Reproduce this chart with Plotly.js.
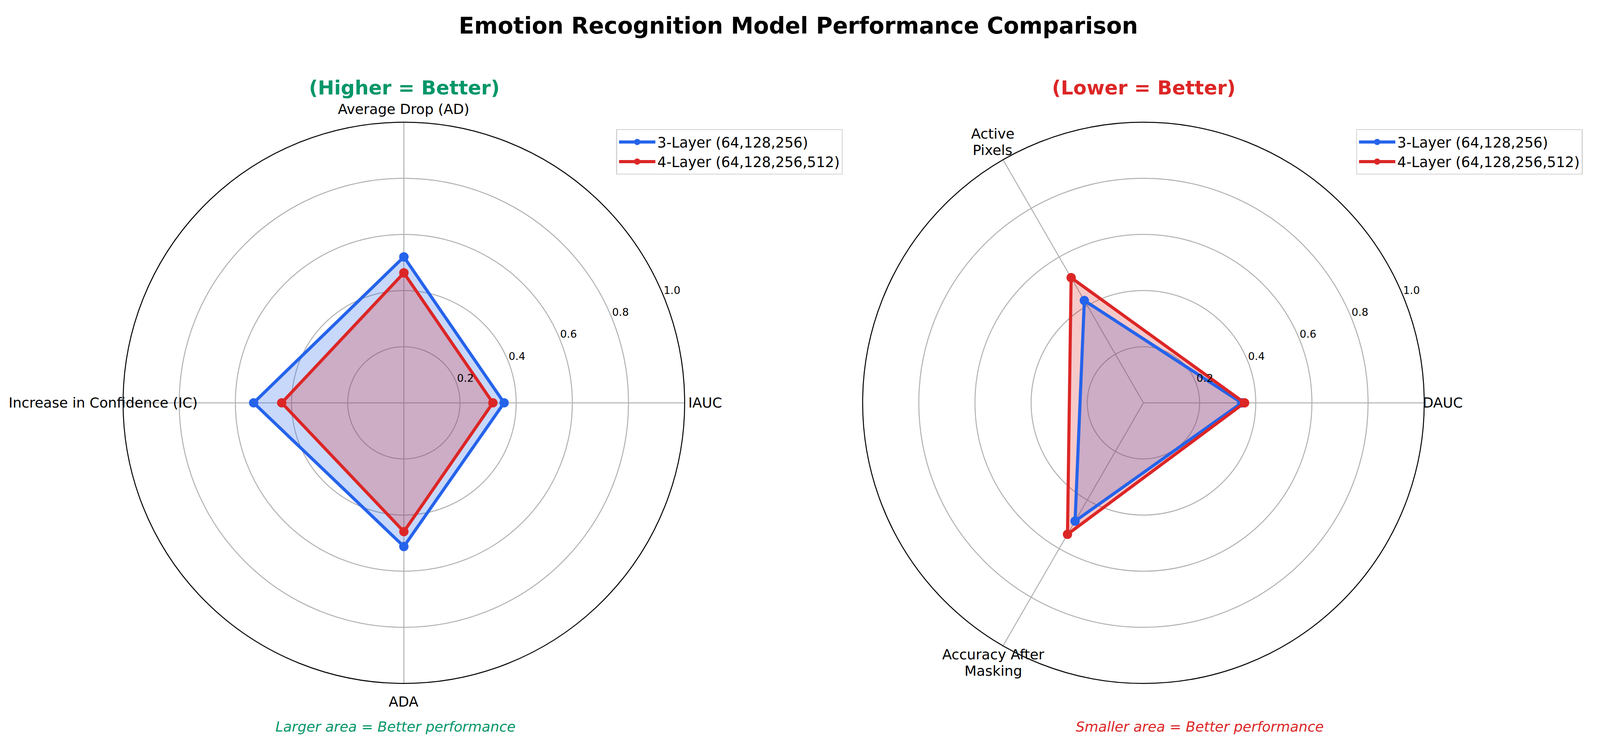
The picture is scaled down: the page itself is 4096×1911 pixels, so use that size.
<!DOCTYPE html>
<html>
<head>
<meta charset="utf-8">
<script src="https://cdn.plot.ly/plotly-3.0.1.min.js"></script>
<style>
html,body{margin:0;padding:0;background:#fff;}
#chart{width:4096px;height:1911px;}
</style>
</head>
<body>
<div id="chart"></div>
<script>
// ---- data ----
const seriesNames = ['3-Layer (64,128,256)', '4-Layer (64,128,256,512)'];
const higherCategories = ['Average Drop (AD)', 'Increase in Confidence (IC)', 'ADA', 'IAUC'];
const higher3Layer = [0.52, 0.535, 0.512, 0.357];
const higher4Layer = [0.463, 0.435, 0.459, 0.317];
const lowerCategories = ['DAUC', 'Active<br>Pixels', 'Accuracy After<br>Masking'];
const lower3Layer = [0.35, 0.421, 0.487];
const lower4Layer = [0.36, 0.515, 0.541];
const radialTicks = [0.2, 0.4, 0.6, 0.8, 1.0];
const radialTickText = ['0.2', '0.4', '0.6', '0.8', '1.0'];

// ---- style / geometry ----
const S = 0.997;
const W = 4096, H = 1911;
const BLUE = '#2563EB', RED = '#DC2626', GREEN = '#059669';
const FONT = 'DejaVu Sans, Verdana, sans-serif';
const closeLoop = a => a.concat([a[0]]);

const R = 721 * S;                 // polar radius (px)
const CY = 1035 * S;               // polar centre y (px from top)
const CX1 = 1037 * S, CX2 = 2936 * S;
const ROT1 = 90, ROT2 = 0;         // angular rotation of first category
// extra distance of each category label beyond the outer circle (px, reference scale)
const higherLabelPad = [34, 51, 47, 52];
const lowerLabelPad = [48, 53, 50];
const LINE_GAP = 42;               // line spacing of two-line labels

const blueFill = 'rgba(37,99,235,0.25)';
const redFill = 'rgba(220,38,38,0.25)';

function fillTrace(cats, vals, fillcolor, polar) {
  return {
    type: 'scatterpolar', mode: 'none',
    r: closeLoop(vals), theta: closeLoop(cats),
    subplot: polar, fill: 'toself', fillcolor: fillcolor,
    showlegend: false, hoverinfo: 'skip'
  };
}
function lineTrace(cats, vals, name, color, polar, legend) {
  return {
    type: 'scatterpolar', mode: 'lines+markers',
    r: closeLoop(vals), theta: closeLoop(cats),
    name: name, subplot: polar, legend: legend,
    legendgroup: name + polar,
    line: {color: color, width: 8 * S},
    marker: {color: color, size: 24 * S},
    hoverinfo: 'skip'
  };
}

const data = [
  fillTrace(higherCategories, higher3Layer, blueFill, 'polar'),
  fillTrace(higherCategories, higher4Layer, redFill, 'polar'),
  lineTrace(higherCategories, higher3Layer, seriesNames[0], BLUE, 'polar', 'legend'),
  lineTrace(higherCategories, higher4Layer, seriesNames[1], RED, 'polar', 'legend'),
  fillTrace(lowerCategories, lower3Layer, blueFill, 'polar2'),
  fillTrace(lowerCategories, lower4Layer, redFill, 'polar2'),
  lineTrace(lowerCategories, lower3Layer, seriesNames[0], BLUE, 'polar2', 'legend2'),
  lineTrace(lowerCategories, lower4Layer, seriesNames[1], RED, 'polar2', 'legend2')
];

function polarLayout(cx, rotation, cats) {
  return {
    domain: {
      x: [(cx - R) / W, (cx + R) / W],
      y: [(H - CY - R) / H, (H - CY + R) / H]
    },
    bgcolor: 'white',
    radialaxis: {
      range: [0, 1],
      tickvals: radialTicks,
      showline: false,
      showticklabels: false,
      ticks: '',
      angle: 22.5,
      gridcolor: '#b0b0b0',
      gridwidth: 2.5 * S
    },
    angularaxis: {
      type: 'category',
      categoryarray: cats,
      rotation: rotation,
      direction: 'counterclockwise',
      showline: true,
      linecolor: 'black',
      linewidth: 2.5 * S,
      gridcolor: '#b0b0b0',
      gridwidth: 2.5 * S,
      ticks: '',
      showticklabels: false
    }
  };
}

function legendLayout(xpx, ypx) {
  return {
    x: xpx / W, y: 1 - ypx / H, xanchor: 'left', yanchor: 'top',
    bgcolor: 'white',
    bordercolor: '#d3d3d3',
    borderwidth: 2.5 * S,
    font: {family: FONT, size: 36.5 * S, color: 'black'},
    itemwidth: 93,
    tracegroupgap: 10,
    traceorder: 'normal'
  };
}

const ann = (text, xpx, ypx, color, size, italic) => ({
  text: text, xref: 'paper', yref: 'paper',
  x: xpx / W, y: 1 - ypx / H, xanchor: 'center', yanchor: 'middle',
  showarrow: false,
  font: {family: FONT, size: size, color: color, style: italic ? 'italic' : 'normal'}
});

const annotations = [
  ann('<b>(Higher = Better)</b>', 1038 * S, 226 * S, GREEN, 50 * S, false),
  ann('<b>(Lower = Better)</b>', 2937 * S, 226 * S, RED, 50 * S, false),
  ann('Larger area = Better performance', 1016 * S, 1867 * S, GREEN, 36 * S, true),
  ann('Smaller area = Better performance', 3081 * S, 1867 * S, RED, 36 * S, true)
];

// category labels, centred outside the outer circle (multi-line labels split per line)
function addCategoryLabels(cats, cx, rot, pads) {
  const n = cats.length;
  cats.forEach((c, i) => {
    const a = (rot + i * 360 / n) * Math.PI / 180;
    const rr = R + pads[i] * S;
    const x = cx + rr * Math.cos(a), y = CY - rr * Math.sin(a);
    const lines = c.split('<br>');
    lines.forEach((ln, k) => {
      const dy = (k - (lines.length - 1) / 2) * LINE_GAP * S;
      annotations.push(ann(ln, x, y + dy, 'black', 36 * S, false));
    });
  });
}
addCategoryLabels(higherCategories, CX1, ROT1, higherLabelPad);
addCategoryLabels(lowerCategories, CX2, ROT2, lowerLabelPad);

// radial tick labels, horizontal, along the ~23 deg direction
function addRadialLabels(cx) {
  const a = 23 * Math.PI / 180;
  radialTicks.forEach((v, i) => {
    const rr = v * R + 27 * S;
    annotations.push(ann(radialTickText[i], cx + rr * Math.cos(a), CY - rr * Math.sin(a) + 3 * S, 'black', 27 * S, false));
  });
}
addRadialLabels(CX1);
addRadialLabels(CX2);

const layout = {
  width: W, height: H,
  margin: {l: 0, r: 0, t: 0, b: 0},
  paper_bgcolor: 'white',
  showlegend: true,
  hovermode: false,
  title: {
    text: '<b>Emotion Recognition Model Performance Comparison</b>',
    x: 2050 * S / W, xanchor: 'center',
    y: 1 - 66 * S / H, yanchor: 'middle',
    yref: 'container', xref: 'paper',
    font: {family: FONT, size: 58 * S, color: 'black'}
  },
  polar: polarLayout(CX1, ROT1, higherCategories),
  polar2: polarLayout(CX2, ROT2, lowerCategories),
  legend: legendLayout(1582 * S, 332 * S),
  legend2: legendLayout(3482 * S, 332 * S),
  annotations: annotations
};

Plotly.newPlot('chart', data, layout, {staticPlot: true, displayModeBar: false});
</script>
</body>
</html>
